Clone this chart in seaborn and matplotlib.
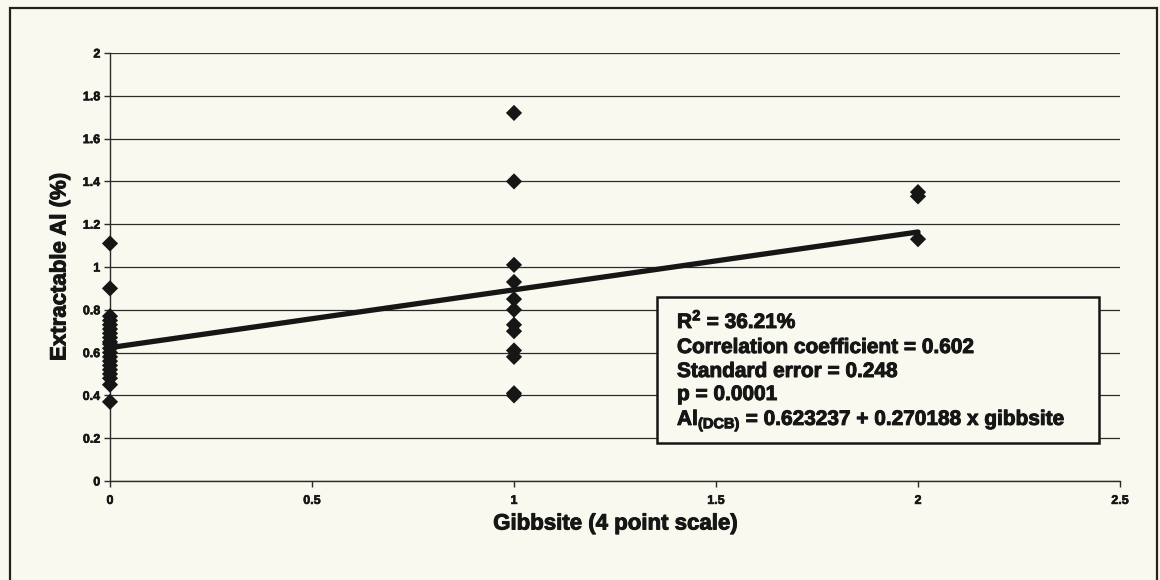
import matplotlib
matplotlib.use("Agg")
import matplotlib.pyplot as plt
import matplotlib.patheffects as pe
import numpy as np
import pandas as pd
import seaborn as sns
from matplotlib.patches import Rectangle

# Extractable Al (%) measured at each gibbsite rating
al_gibbsite_0 = [1.11, 0.90, 0.77, 0.75, 0.73, 0.71, 0.69, 0.67, 0.65, 0.64,
                 0.62, 0.60, 0.58, 0.56, 0.54, 0.52, 0.50, 0.48, 0.45, 0.37]
al_gibbsite_1 = [1.72, 1.40, 1.01, 0.93, 0.85, 0.80, 0.73, 0.70, 0.61, 0.58,
                 0.41, 0.40]
al_gibbsite_2 = [1.35, 1.33, 1.13]

# Fitted regression
intercept = 0.623237
slope = 0.270188
fit_x = [0, 2]

x_ticks = [0, 0.5, 1, 1.5, 2, 2.5]
x_tick_labels = ["0", "0.5", "1", "1.5", "2", "2.5"]
y_ticks = [0, 0.2, 0.4, 0.6, 0.8, 1.0, 1.2, 1.4, 1.6, 1.8, 2.0]
y_tick_labels = ["0", "0.2", "0.4", "0.6", "0.8", "1", "1.2", "1.4", "1.6", "1.8", "2"]

stats_lines = [
    r"R$^{2}$ = 36.21%",
    "Correlation coefficient = 0.602",
    "Standard error = 0.248",
    "p = 0.0001",
    r"Al$_{(DCB)}$ = 0.623237 + 0.270188 x gibbsite",
]

sns.set_theme(style="white")
plt.rcParams["font.family"] = ["Liberation Sans", "DejaVu Sans"]
plt.rcParams["font.weight"] = "bold"
plt.rcParams["mathtext.fontset"] = "custom"
plt.rcParams["mathtext.rm"] = "Liberation Sans:bold"
plt.rcParams["mathtext.it"] = "Liberation Sans:bold"
plt.rcParams["mathtext.bf"] = "Liberation Sans:bold"

W, H = 1160, 580
bg = "#f9f9ef"
ink = "#161616"
heavy = [pe.withStroke(linewidth=0.7, foreground=ink)]
heavy_small = [pe.withStroke(linewidth=0.45, foreground=ink)]

df = pd.DataFrame({
    "Gibbsite": [0] * len(al_gibbsite_0) + [1] * len(al_gibbsite_1) + [2] * len(al_gibbsite_2),
    "Al": al_gibbsite_0 + al_gibbsite_1 + al_gibbsite_2,
})
fit_df = pd.DataFrame({"Gibbsite": fit_x,
                       "Al": [intercept + slope * v for v in fit_x]})

fig = plt.figure(figsize=(W / 100, H / 100), dpi=100, facecolor=bg)
ax = fig.add_axes([110 / W, 1 - 481 / H, 1010 / W, 428 / H])
ax.set_facecolor(bg)

sns.scatterplot(data=df, x="Gibbsite", y="Al", marker="D", s=68,
                color=ink, edgecolor="none", linewidth=0, ax=ax, zorder=3)
for coll in ax.collections:
    coll.set_clip_on(False)
sns.lineplot(data=fit_df, x="Gibbsite", y="Al", color=ink, linewidth=3.8,
             ax=ax, zorder=4)

ax.set_xlim(0, 2.5)
ax.set_ylim(0, 2)
ax.set_xticks(x_ticks)
ax.set_xticklabels(x_tick_labels)
ax.set_yticks(y_ticks)
ax.set_yticklabels(y_tick_labels)
ax.yaxis.grid(True, color="#2b2b2b", linewidth=0.9)
ax.xaxis.grid(False)
ax.set_axisbelow(True)

for side in ("top", "right"):
    ax.spines[side].set_visible(False)
for side in ("left", "bottom"):
    ax.spines[side].set_color("#2b2b2b")
    ax.spines[side].set_linewidth(1.0)

ax.tick_params(axis="both", which="major", bottom=True, left=True,
               direction="out", length=4, width=1, color="#2b2b2b",
               labelsize=9, labelcolor=ink)
ax.tick_params(axis="x", pad=6)
ax.tick_params(axis="y", pad=3)
for lab in ax.get_xticklabels() + ax.get_yticklabels():
    lab.set_fontweight("bold")
    lab.set_path_effects(heavy_small)

ax.set_xlabel("Gibbsite (4 point scale)", fontsize=16, fontweight="bold", color=ink)
ax.set_ylabel("Extractable Al (%)", fontsize=16, fontweight="bold", color=ink)
ax.xaxis.set_label_coords(0.5, (481 - 524) / 428)
ax.xaxis.label.set_va("center")
ax.xaxis.label.set_path_effects(heavy)
ax.yaxis.set_label_coords((60 - 110) / 1010, 0.5)
ax.yaxis.label.set_va("center")
ax.yaxis.label.set_path_effects(heavy)

# Statistics box
fig.add_artist(Rectangle((657 / W, 1 - 443 / H), (1099 - 657) / W, (443 - 297) / H,
                         transform=fig.transFigure, facecolor=bg,
                         edgecolor=ink, linewidth=1.8, zorder=5))
baselines = [328, 353, 377, 400, 425]
for line, yb in zip(stats_lines, baselines):
    fig.text(677 / W, 1 - yb / H, line, fontsize=15, fontweight="bold",
             color=ink, ha="left", va="baseline", zorder=6,
             path_effects=heavy)

# Outer chart frame
fig.add_artist(Rectangle((10 / W, -0.05), (1157 - 10) / W, (H - 8) / H + 0.05,
                         transform=fig.transFigure, facecolor="none",
                         edgecolor="#222222", linewidth=1.6, zorder=1))

fig.savefig("out.png", dpi=100, facecolor=bg)
